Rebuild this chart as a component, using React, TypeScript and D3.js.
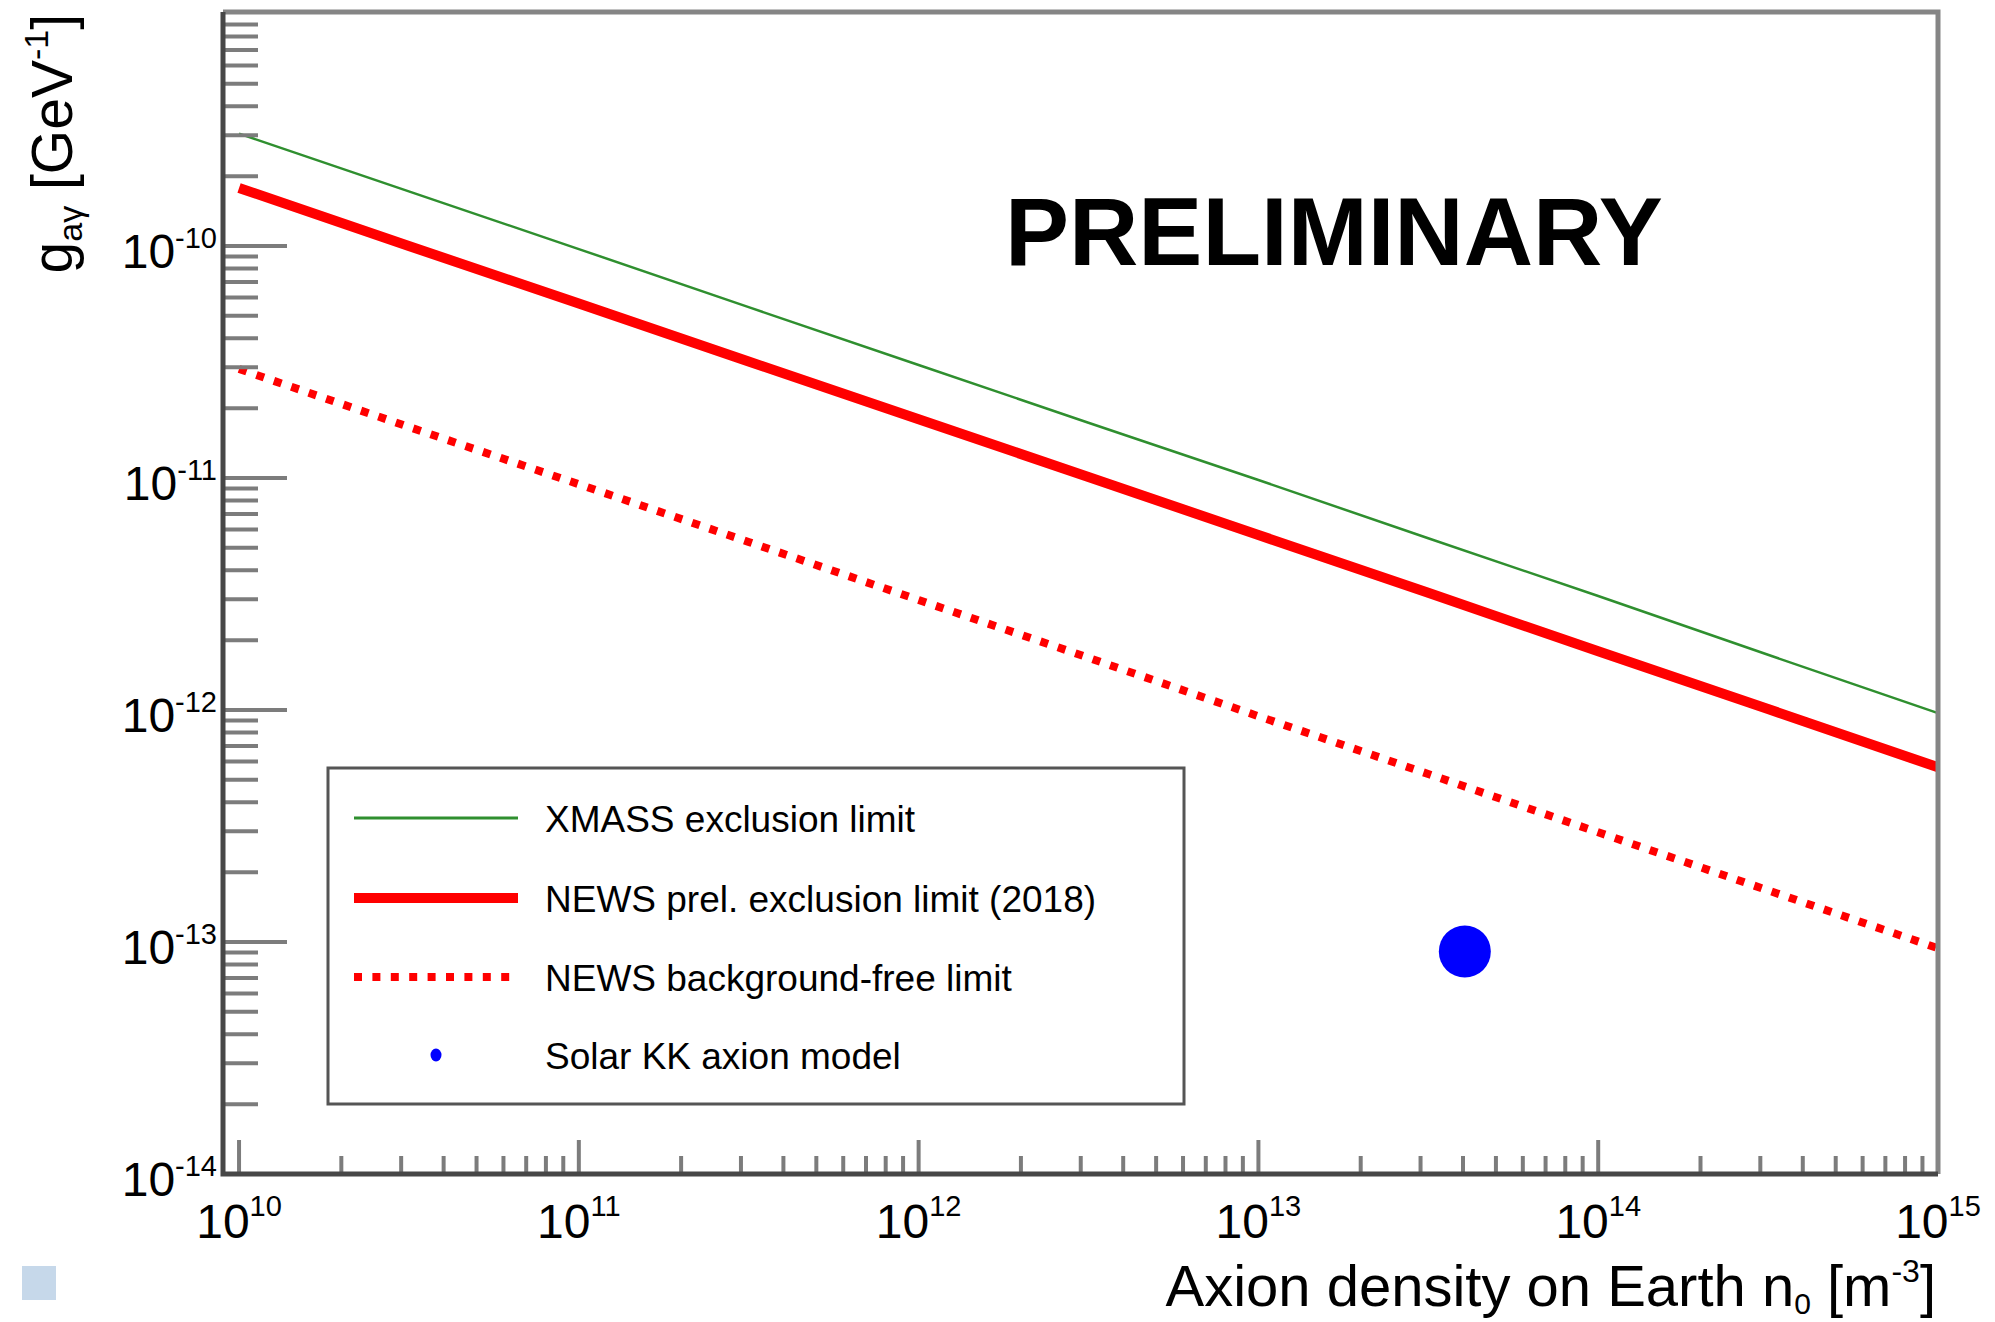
import * as d3 from 'd3'

// axion density grid (m^-3), half-decade steps
const density = [1e10, 3.16e10, 1e11, 3.16e11, 1e12, 3.16e12, 1e13, 3.16e13, 1e14, 3.16e14, 1e15]
// g_ay limits (GeV^-1)
const xmassLimit = [3.05e-10, 1.72e-10, 9.7e-11, 5.45e-11, 3.07e-11, 1.73e-11, 9.8e-12, 5.5e-12, 3.1e-12, 1.73e-12, 9.7e-13]
const newsLimit = [1.78e-10, 1.0e-10, 5.65e-11, 3.18e-11, 1.79e-11, 1.01e-11, 5.68e-12, 3.2e-12, 1.79e-12, 1.01e-12, 5.66e-13]
const newsBgFree = [2.95e-11, 1.66e-11, 9.4e-12, 5.3e-12, 2.98e-12, 1.68e-12, 9.4e-13, 5.3e-13, 2.97e-13, 1.67e-13, 9.4e-14]
const kkDensity = [4.05e13]
const kkCoupling = [9.1e-14]

const xExponents = [10, 11, 12, 13, 14, 15]
const yExponents = [-14, -13, -12, -11, -10]
const minorMantissas = [2, 3, 4, 5, 6, 7, 8, 9]

const legendLabels = [
  'XMASS exclusion limit',
  'NEWS prel. exclusion limit (2018)',
  'NEWS background-free limit',
  'Solar KK axion model',
]

const W = 1995
const H = 1322
const frame = { left: 223, right: 1938, top: 12, bottom: 1174 }
const font = '"Liberation Sans", Arial, Helvetica, sans-serif'
const tickColor = '#7c7c7c'
const axisDark = '#474747'
const frameGray = '#858585'

export default function App() {
  const x = d3.scaleLog().domain([8.97e9, 1e15]).range([frame.left, frame.right])
  const y = d3.scaleLog().domain([1e-14, 1.02e-9]).range([frame.bottom, frame.top])

  const line = d3
    .line<number>()
    .x((_, i) => x(density[i]))
    .y((d) => y(d))

  const xMinor = xExponents.slice(0, -1).flatMap((e) => minorMantissas.map((m) => m * 10 ** e))
  const yMinor = yExponents.flatMap((e) => minorMantissas.map((m) => m * 10 ** e))

  // legend geometry
  const lg = { x0: 328, y0: 768, x1: 1184, y1: 1104 }
  const rowY = [818, 898, 977, 1055]
  const sampleX = [354, 518]
  const textX = 545

  return (
    <svg
      width={W}
      height={H}
      style={{ position: 'absolute', left: 0, top: 0, background: '#fff' }}
      fontFamily={font}
    >
      <rect x={0} y={0} width={W} height={H} fill="#fff" />

      {/* data curves */}
      <path d={line(xmassLimit) ?? ''} fill="none" stroke="#2f8f2f" strokeWidth={2.5} />
      <path d={line(newsLimit) ?? ''} fill="none" stroke="#ff0000" strokeWidth={10} />
      <path
        d={line(newsBgFree) ?? ''}
        fill="none"
        stroke="#ff0000"
        strokeWidth={8}
        strokeDasharray="8 10.4"
      />
      {kkDensity.map((n, i) => (
        <circle key={i} cx={x(n)} cy={y(kkCoupling[i])} r={26} fill="#0000ff" />
      ))}

      {/* y ticks */}
      {yMinor.map((v) => (
        <line key={'ym' + v} x1={frame.left} x2={frame.left + 35} y1={y(v)} y2={y(v)} stroke={tickColor} strokeWidth={4} />
      ))}
      {yExponents.map((e) => (
        <line key={'yM' + e} x1={frame.left} x2={frame.left + 64} y1={y(10 ** e)} y2={y(10 ** e)} stroke={tickColor} strokeWidth={4} />
      ))}
      {/* x ticks */}
      {xMinor.map((v) => (
        <line key={'xm' + v} x1={x(v)} x2={x(v)} y1={frame.bottom} y2={frame.bottom - 18} stroke={tickColor} strokeWidth={4} />
      ))}
      {xExponents.map((e) => (
        <line key={'xM' + e} x1={x(10 ** e)} x2={x(10 ** e)} y1={frame.bottom} y2={frame.bottom - 34} stroke={tickColor} strokeWidth={4} />
      ))}

      {/* frame */}
      <path
        d={`M${frame.left},${frame.top}H${frame.right}V${frame.bottom}`}
        fill="none"
        stroke={frameGray}
        strokeWidth={5}
      />
      <path
        d={`M${frame.left},${frame.top}V${frame.bottom}H${frame.right}`}
        fill="none"
        stroke={axisDark}
        strokeWidth={5}
      />

      {/* tick labels */}
      {yExponents.map((e) => (
        <text key={'yl' + e} x={217} y={y(10 ** e) + 22} textAnchor="end" fontSize={48} fill="#000">
          10
          <tspan fontSize={29} dy={-20}>
            {String(e)}
          </tspan>
        </text>
      ))}
      {xExponents.map((e) => (
        <text key={'xl' + e} x={x(10 ** e)} y={1238} textAnchor="middle" fontSize={48} fill="#000">
          10
          <tspan fontSize={29} dy={-22}>
            {String(e)}
          </tspan>
        </text>
      ))}

      {/* axis titles */}
      <text x={1936} y={1306} textAnchor="end" fontSize={58} fill="#000">
        Axion density on Earth n
        <tspan fontSize={30} dy={8}>0</tspan>
        <tspan dy={-8}> [m</tspan>
        <tspan fontSize={32} dy={-24}>-3</tspan>
        <tspan dy={24}>]</tspan>
      </text>
      <text transform="translate(72,14) rotate(-90)" textAnchor="end" fontSize={57} fill="#000">
        g
        <tspan fontSize={34} dy={10}>aγ</tspan>
        <tspan dy={-10}> [GeV</tspan>
        <tspan fontSize={34} dy={-24}>-1</tspan>
        <tspan dy={24}>]</tspan>
      </text>

      <text x={1005} y={265} fontSize={96} fontWeight="bold" fill="#000">
        PRELIMINARY
      </text>

      {/* legend */}
      <rect x={lg.x0} y={lg.y0} width={lg.x1 - lg.x0} height={lg.y1 - lg.y0} fill="#fff" stroke="#555" strokeWidth={3} />
      <line x1={sampleX[0]} x2={sampleX[1]} y1={rowY[0]} y2={rowY[0]} stroke="#2f8f2f" strokeWidth={3} />
      <line x1={sampleX[0]} x2={sampleX[1]} y1={rowY[1]} y2={rowY[1]} stroke="#ff0000" strokeWidth={10} />
      <line x1={sampleX[0]} x2={sampleX[1] - 8} y1={rowY[2]} y2={rowY[2]} stroke="#ff0000" strokeWidth={8} strokeDasharray="8 10.4" />
      <ellipse cx={436} cy={rowY[3]} rx={5.5} ry={6.5} fill="#0000ff" />
      {legendLabels.map((t, i) => (
        <text key={t} x={textX} y={rowY[i] + 14} fontSize={37} fill="#000">
          {t}
        </text>
      ))}

      {/* stray marker in the corner */}
      <rect x={22} y={1266} width={34} height={34} fill="#c6d8ea" />
    </svg>
  )
}
